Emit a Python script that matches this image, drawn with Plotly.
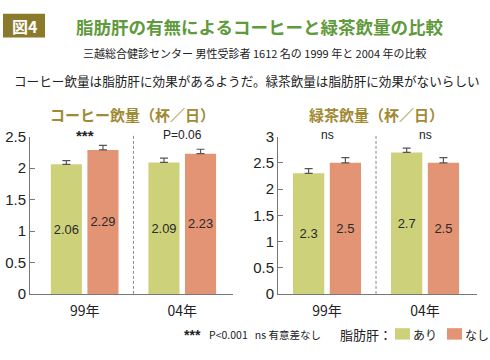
import plotly.graph_objects as go

# ---- data ----
years = ["99年", "04年"]
coffee_fatty = [2.06, 2.09]
coffee_none = [2.29, 2.23]
coffee_fatty_err = [0.06, 0.07]
coffee_none_err = [0.07, 0.07]
tea_fatty = [2.3, 2.7]
tea_none = [2.5, 2.5]
tea_fatty_err = [0.09, 0.08]
tea_none_err = [0.1, 0.1]
coffee_sig = ["***", "P=0.06"]
tea_sig = ["ns", "ns"]
series_names = ["あり", "なし"]

GREEN = "#cdd17a"
RED = "#e29474"
OLIVE = "#a08a34"
NUMFONT = "Liberation Sans Narrow, Liberation Sans, Arial, sans-serif"
JP = "Noto Sans CJK JP, sans-serif"

W, H = 490, 360
def px(x): return x / W
def py(y): return 1 - y / H

fig = go.Figure()

def add_bars(vals, errs, color, name, xa, ya):
    fig.add_trace(go.Bar(
        x=years, y=vals, name=name, marker=dict(color=color, line=dict(width=0)),
        error_y=dict(type="data", array=errs, arrayminus=[0]*len(errs), symmetric=False,
                     color="#555555", thickness=1.2, width=4),
        text=[str(v) for v in vals], textposition="inside", insidetextanchor="middle",
        textangle=0, textfont=dict(family=NUMFONT, size=13, color="#2a2a2a"),
        xaxis=xa, yaxis=ya, showlegend=False, cliponaxis=False))

add_bars(coffee_fatty, coffee_fatty_err, GREEN, series_names[0], "x", "y")
add_bars(coffee_none, coffee_none_err, RED, series_names[1], "x", "y")
add_bars(tea_fatty, tea_fatty_err, GREEN, series_names[0], "x2", "y2")
add_bars(tea_none, tea_none_err, RED, series_names[1], "x2", "y2")

ydom = [py(299), py(134)]
axis_common = dict(showgrid=False, zeroline=False, showline=True, linecolor="#777777", linewidth=1)
xfont = dict(family=JP, size=14, color="#222")
yfont = dict(family=NUMFONT, size=15, color="#222")
fig.update_layout(
    width=W, height=H, autosize=False,
    margin=dict(l=0, r=0, t=0, b=0),
    paper_bgcolor="white", plot_bgcolor="white",
    barmode="group", bargap=0.25, bargroupgap=0.15,
    xaxis=dict(domain=[px(30), px(233)], range=[-0.56, 1.52], type="category",
               ticks="", tickfont=xfont, ticklabelstandoff=4, anchor="y", **axis_common),
    yaxis=dict(domain=ydom, range=[0, 2.5], tickvals=[0, 0.5, 1, 1.5, 2, 2.5],
               ticktext=["0", "0.5", "1", "1.5", "2", "2.5"],
               ticks="inside", ticklen=5, tickcolor="#777777",
               tickfont=yfont, anchor="x", **axis_common),
    xaxis2=dict(domain=[px(278), px(477)], range=[-0.5, 1.53], type="category",
                ticks="", tickfont=xfont, ticklabelstandoff=4, anchor="y2", **axis_common),
    yaxis2=dict(domain=ydom, range=[0, 3], tickvals=[0, 0.5, 1, 1.5, 2, 2.5, 3],
                ticktext=["0", "0.5", "1", "1.5", "2", "2.5", "3"],
                ticks="inside", ticklen=5, tickcolor="#777777",
                tickfont=yfont, anchor="x2", **axis_common),
)

# dashed separators
fig.add_shape(type="line", xref="x", yref="paper", x0=0.5, x1=0.5, y0=py(299), y1=py(131),
              line=dict(color="#888888", width=1, dash="3px,2px"))
fig.add_shape(type="line", xref="x2", yref="paper", x0=0.5, x1=0.5, y0=py(299), y1=py(131),
              line=dict(color="#888888", width=1, dash="3px,2px"))

def ann(x, y, text, font, xref="paper", xanchor="center"):
    fig.add_annotation(x=x, y=y, xref=xref, yref="paper", text=text, showarrow=False,
                       xanchor=xanchor, yanchor="middle", font=font)

# significance labels
for i, s in enumerate(coffee_sig):
    if s == "***":
        ann(years[i], py(133), "<b>***</b>", dict(family=NUMFONT, size=15, color="#222"), xref="x")
    else:
        ann(years[i], py(132), s, dict(family=NUMFONT, size=12, color="#222"), xref="x")
for i, s in enumerate(tea_sig):
    ann(years[i], py(132), s, dict(family=NUMFONT, size=12, color="#222"), xref="x2")

# panel titles
ann(px(132), py(111), "<b>コーヒー飲量（杯／日）</b>", dict(family=JP, size=15, color=OLIVE))
ann(px(376), py(111), "<b>緑茶飲量（杯／日）</b>", dict(family=JP, size=15, color=OLIVE))

# header
fig.add_shape(type="rect", xref="paper", yref="paper", x0=px(3), x1=px(45), y0=py(30), y1=py(5),
              fillcolor="#8b7a2b", line=dict(width=0))
ann(px(24), py(17.5), "<b>図4</b>", dict(family=JP, size=16, color="white"))
ann(px(259), py(18), "<b>脂肪肝の有無によるコーヒーと緑茶飲量の比較</b>",
    dict(family=JP, size=17.5, color="#5f9a3c"))
ann(px(255), py(46), "三越総合健診センター 男性受診者 1612 名の 1999 年と 2004 年の比較",
    dict(family=JP, size=11, color="#222"))
ann(px(247), py(75), "コーヒー飲量は脂肪肝に効果があるようだ。緑茶飲量は脂肪肝に効果がないらしい",
    dict(family=JP, size=12.6, color="#222"))

# legend / footnote
ann(px(182), py(342), "<b>***</b>", dict(family=NUMFONT, size=14, color="#222"), xanchor="left")
ann(px(207), py(342), "P<0.001   ns 有意差なし", dict(family=JP, size=10.5, color="#222"), xanchor="left")
ann(px(338), py(342), "脂肪肝：", dict(family=JP, size=13, color="#222"), xanchor="left")
fig.add_shape(type="rect", xref="paper", yref="paper", x0=px(395), x1=px(410), y0=py(347), y1=py(335),
              fillcolor=GREEN, line=dict(width=0))
ann(px(411), py(342), series_names[0], dict(family=JP, size=12, color="#222"), xanchor="left")
fig.add_shape(type="rect", xref="paper", yref="paper", x0=px(447), x1=px(462), y0=py(347), y1=py(335),
              fillcolor=RED, line=dict(width=0))
ann(px(463), py(342), series_names[1], dict(family=JP, size=12, color="#222"), xanchor="left")

fig.write_html("out.html", config={"displayModeBar": False},
               post_script="document.body.style.margin='0';document.body.style.overflow='hidden';")
